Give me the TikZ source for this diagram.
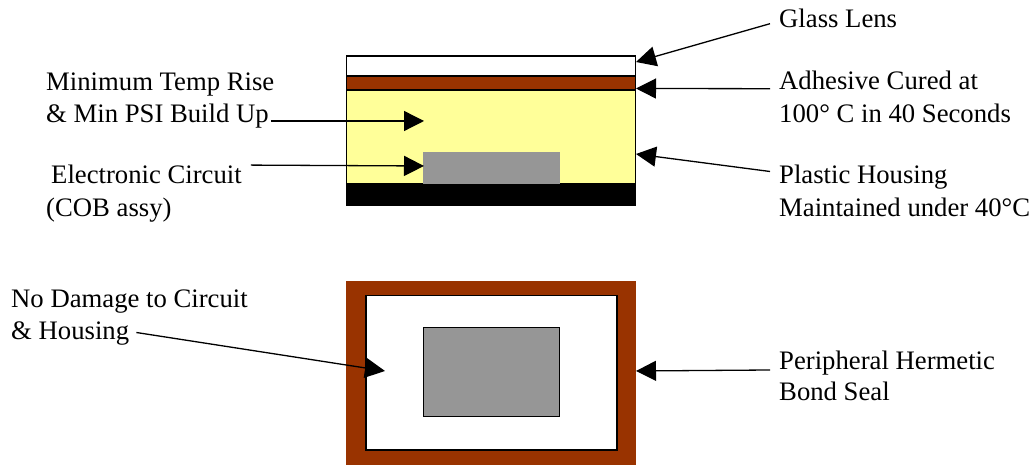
\documentclass[tikz,border=0pt]{standalone}
\usepackage{fontspec}
\setmainfont{Liberation Serif}
\usepackage{xcolor}
\usetikzlibrary{arrows.meta}
\definecolor{sealbrown}{HTML}{993300}
\definecolor{housingyellow}{HTML}{FFFF99}
\definecolor{circuitgray}{HTML}{969696}
\tikzset{
  part/.style={shape = rectangle, draw=black, line width=1.2pt, inner sep=0pt},
  solid part/.style={shape = rectangle, draw=none, inner sep=0pt},
  label text/.style={font=\fontsize{26.7pt}{31pt}\selectfont, text height=18pt, text depth=6pt, inner ysep=0pt, inner xsep=9pt, anchor=base west},
  pointer/.style={-{Triangle[length=20pt,width=20pt]}, line width=1.3pt, draw=black}
}

\begin{document}
\begin{tikzpicture}[x=1pt,y=1pt]
\useasboundingbox (0pt,0pt) rectangle (1034pt,465pt) ;
% side view
\node[part, minimum width=289pt, minimum height=94pt, fill=housingyellow] (housing) at (491.3pt,328pt) {} ;
\node[solid part, minimum width=136.5pt, minimum height=32pt, fill=circuitgray] (circuit) at (491.3pt,297pt) {} ;
\node[solid part, minimum width=290pt, minimum height=21.5pt, fill=black] (base) at (491.3pt,270.2pt) {} ;
\node[part, minimum width=289pt, minimum height=14pt, fill=sealbrown] (adhesive) at (491.3pt,382pt) {} ;
\node[part, minimum width=289pt, minimum height=20pt, fill=white] (lens) at (491.3pt,399pt) {} ;
% top view
\node[solid part, minimum width=290pt, minimum height=184pt, fill=sealbrown] (seal) at (491.3pt,92pt) {} ;
\node[part, minimum width=251pt, minimum height=154.7pt, fill=white] (cavity) at (491.5pt,92.4pt) {} ;
\node[part, minimum width=136pt, minimum height=89pt, fill=circuitgray] (chip) at (491.3pt,93.2pt) {} ;
% labels
\node[label text] (glasslabel) at (770pt,437pt) {Glass Lens} ;
\node[label text] (adhesivea) at (770pt,375pt) {Adhesive Cured at} ;
\node[label text] (adhesiveb) at (770pt,342pt) {100\textdegree{} C in 40 Seconds} ;
\node[label text] (plastica) at (770pt,281.5pt) {Plastic Housing} ;
\node[label text] (plasticb) at (770pt,248.5pt) {Maintained under 40\textdegree{}C} ;
\node[label text] (perifa) at (770pt,95pt) {Peripheral Hermetic} ;
\node[label text] (perifb) at (770pt,64pt) {Bond Seal} ;
\node[label text] (mintemp) at (37pt,374.5pt) {Minimum Temp Rise} ;
\node[label text, inner xsep=2pt] (minpsi) at (44pt,342.5pt) {\& Min PSI Build Up} ;
\node[label text] (electronic) at (42pt,281pt) {Electronic Circuit} ;
\node[label text] (cob) at (37pt,248.5pt) {(COB assy)} ;
\node[label text] (damagea) at (2pt,157pt) {No Damage to Circuit} ;
\node[label text, inner xsep=7pt] (damageb) at (4pt,125.5pt) {\& Housing} ;
% arrow ends
\coordinate (tiplens) at (636pt,403pt) ;
\coordinate (tipadhesive) at (636pt,376.5pt) ;
\coordinate (tipplastic) at (636pt,311pt) ;
\coordinate (tipperif) at (636pt,94pt) ;
\coordinate (tipmin) at (424pt,344pt) ;
\coordinate (tipelec) at (424pt,299pt) ;
\coordinate (tipdamage) at (385pt,94pt) ;
\draw[pointer] ([yshift=-1.7pt]glasslabel.west) -- (tiplens) ;
\draw[pointer] ([yshift=1.3pt]adhesivea.base west) -- (tipadhesive) ;
\draw[pointer] ([yshift=6pt]plastica.west) -- (tipplastic) ;
\draw[pointer] (perifa.base west) -- (tipperif) ;
\draw[pointer] ([yshift=1.5pt]minpsi.base east) -- (tipmin) ;
\draw[pointer] ([yshift=0.7pt]electronic.north east) -- (tipelec) ;
\draw[pointer] ([yshift=7pt]damageb.base east) -- (tipdamage) ;
\end{tikzpicture}
\end{document}
